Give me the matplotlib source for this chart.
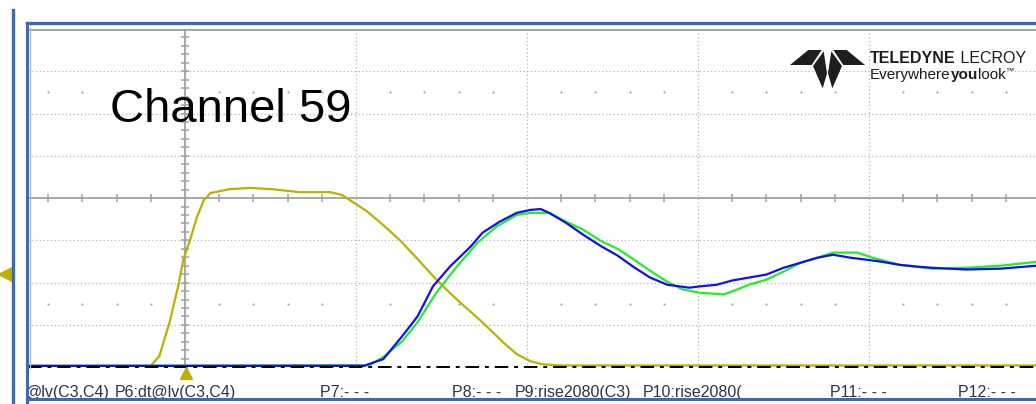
import numpy as np
import matplotlib.pyplot as plt
from matplotlib.patches import Polygon

# time in divisions (0 = trigger), amplitude in divisions above the channel baseline
t_yel = [-0.92, -0.20, -0.15, -0.09, -0.04, -0.01, 0.01, 0.03, 0.07, 0.11, 0.15, 0.20, 0.26, 0.38,
         0.51, 0.67, 0.85, 0.92, 0.98, 1.06, 1.16, 1.26, 1.36, 1.47, 1.59, 1.74, 1.86, 1.94, 2.02,
         2.09, 2.19, 4.98]
v_yel = [0.03, 0.03, 0.26, 1.06, 1.91, 2.54, 2.78, 3.01, 3.55, 3.95, 4.12, 4.16, 4.21, 4.24,
         4.21, 4.14, 4.14, 4.07, 3.91, 3.70, 3.36, 2.99, 2.56, 2.07, 1.60, 1.06, 0.59, 0.31, 0.14,
         0.07, 0.04, 0.04]

t_blue = [-0.92, 1.05, 1.06, 1.16, 1.27, 1.36, 1.45, 1.55, 1.67, 1.74, 1.84, 1.94, 2.02, 2.08,
          2.13, 2.23, 2.33, 2.43, 2.53, 2.62, 2.72, 2.82, 2.95, 3.01, 3.11, 3.20, 3.30, 3.40,
          3.50, 3.60, 3.70, 3.79, 3.89, 3.99, 4.08, 4.18, 4.28, 4.37, 4.57, 4.77, 4.98]
v_blue = [0.03, 0.03, 0.05, 0.19, 0.73, 1.20, 1.91, 2.38, 2.85, 3.18, 3.44, 3.65, 3.72, 3.74,
          3.65, 3.41, 3.13, 2.87, 2.64, 2.38, 2.12, 1.95, 1.88, 1.91, 1.95, 2.05, 2.12, 2.19,
          2.35, 2.47, 2.59, 2.66, 2.59, 2.54, 2.49, 2.42, 2.38, 2.35, 2.31, 2.33, 2.40]

t_green = [-0.92, 1.08, 1.16, 1.27, 1.36, 1.47, 1.59, 1.71, 1.82, 1.94, 2.02, 2.13, 2.23, 2.33,
           2.43, 2.53, 2.62, 2.72, 2.82, 2.91, 3.01, 3.15, 3.20, 3.30, 3.40, 3.50, 3.60, 3.70,
           3.79, 3.93, 4.02, 4.18, 4.37, 4.57, 4.77, 4.98]
v_green = [0.03, 0.05, 0.24, 0.61, 1.06, 1.76, 2.38, 2.94, 3.32, 3.60, 3.65, 3.65, 3.44, 3.25,
           2.99, 2.80, 2.56, 2.28, 2.02, 1.84, 1.76, 1.72, 1.79, 1.95, 2.07, 2.26, 2.47, 2.59,
           2.71, 2.71, 2.59, 2.42, 2.33, 2.35, 2.40, 2.49]

labels = ["@lv(C3,C4)", "P6:dt@lv(C3,C4)", "P7:- - -", "P8:- - -", "P9:rise2080(C3)",
          "P10:rise2080(", "P11:- - -", "P12:- - -"]
label_x = [26, 115, 320, 452, 515, 643, 830, 958]

YEL = '#bdb000'
GRID = '#b4b4b4'
AXC = '#a0a0a0'
FRAME = '#3c6cb0'

W, H = 1036, 404
fig = plt.figure(figsize=(W / 100, H / 100), dpi=100)
fig.patch.set_facecolor('white')

# scope screen: pixel 28..1036 wide, 29..368 high
ax = fig.add_axes([28 / W, 36 / H, 1008 / W, 339 / H])
ax.set_xlim(-0.918, 4.977)
ax.set_ylim(-0.02, 8.0)
ax.axis('off')

for x in [1, 2, 3, 4]:
    ax.axvline(x, color=GRID, lw=0.9, ls=(0, (1, 2)))
for y in [1, 2, 3, 5, 6, 7]:
    ax.axhline(y, color=GRID, lw=0.9, ls=(0, (1, 2)))
ax.axhline(8.0, color=AXC, lw=2.0)
ax.axhline(4, color=AXC, lw=1.3)
ax.axvline(0, color=AXC, lw=1.3)

# tick marks on the centre axes and dot rows
tx = np.arange(-0.8, 5.0, 0.2)
tx = tx[np.abs(tx - np.round(tx)) > 0.05]
ax.plot(tx, np.full(len(tx), 4.0), ls='none', marker='|', ms=6, mew=1.1, color=AXC)
ty = np.arange(0.2, 8.0, 0.2)
ax.plot(np.zeros(len(ty)), ty, ls='none', marker='_', ms=6, mew=1.1, color=AXC)
for y in [1.5, 6.5]:
    ax.plot(tx, np.full(len(tx), y), ls='none', marker='s', ms=1.3, mew=0, color='#9a9a9a')

ax.plot(t_yel, v_yel, color=YEL, lw=1.6)
ax.plot(t_green, v_green, color='#22ee22', lw=1.6)
ax.plot(t_blue, v_blue, color='#1010ee', lw=1.6)
ax.axhline(0, color='black', lw=1.4, ls=(0, (7, 3, 2, 3)))

ax.plot([0.005], [-0.15], marker='^', ms=9, color=YEL, ls='none', clip_on=False)
ax.plot([-1.05], [2.21], marker='<', ms=10, color=YEL, ls='none', clip_on=False)

# decoration overlay in pixel coordinates
ov = fig.add_axes([0, 0, 1, 1])
ov.set_xlim(0, W)
ov.set_ylim(H, 0)
ov.axis('off')
ov.patch.set_alpha(0)

ov.plot([13, 13], [10, 404], color=FRAME, lw=2.4)
ov.plot([27, 27], [23, 404], color=FRAME, lw=2.2)
ov.plot([29.5, 29.5], [28, 368], color='#9dbbe0', lw=1.0)
ov.plot([27, 1036], [23, 23], color=FRAME, lw=2.4)
ov.plot([27, 1036], [398.5, 398.5], color=FRAME, lw=2.2)

ov.text(110, 122, "Channel 59", fontsize=34, family=['Liberation Sans', 'DejaVu Sans'],
        color='black', va='baseline', ha='left')

# Teledyne LeCroy logo
shapes = [[(30, 75), (85, 30), (125, 30), (95, 75)],
          [(99, 78), (131, 34), (141, 100), (128, 145)],
          [(144, 100), (154, 34), (186, 78), (157, 145)],
          [(190, 75), (160, 30), (200, 30), (255, 75)]]
for s in shapes:
    ov.add_patch(Polygon([(780 + a / 3, 40 + b / 3) for a, b in s], closed=True,
                         facecolor='#1e1e1e', edgecolor='none'))

fam = ['Liberation Sans', 'DejaVu Sans']
fig.canvas.draw()
r = fig.canvas.get_renderer()


def chain(x, y, parts):
    for txt, wt, sz, dy in parts:
        t = ov.text(x, y + dy, txt, fontsize=sz, fontweight=wt, family=fam, color='#1e1e1e',
                    va='baseline', ha='left')
        x += t.get_window_extent(renderer=r).width


chain(870, 63, [("TELEDYNE", 'bold', 11.5, 0), (" LECROY", 'normal', 11.5, 0)])
chain(870, 79, [("Everywhere", 'normal', 11, 0), ("you", 'bold', 11, 0), ("look", 'normal', 11, 0),
                ("\u2122", 'normal', 6, -6)])

# measurement labels under the grid, clipped by the frame
lab = fig.add_axes([29 / W, 6 / H, 1007 / W, 26 / H])
lab.set_xlim(29, W)
lab.set_ylim(398, 372)
lab.axis('off')
for s, x in zip(labels, label_x):
    tt = lab.text(x, 397, s, fontsize=11.5, family=fam, color='#30304a', va='baseline', ha='left')
    tt.set_clip_on(True)

fig.savefig("out.png", dpi=100)
